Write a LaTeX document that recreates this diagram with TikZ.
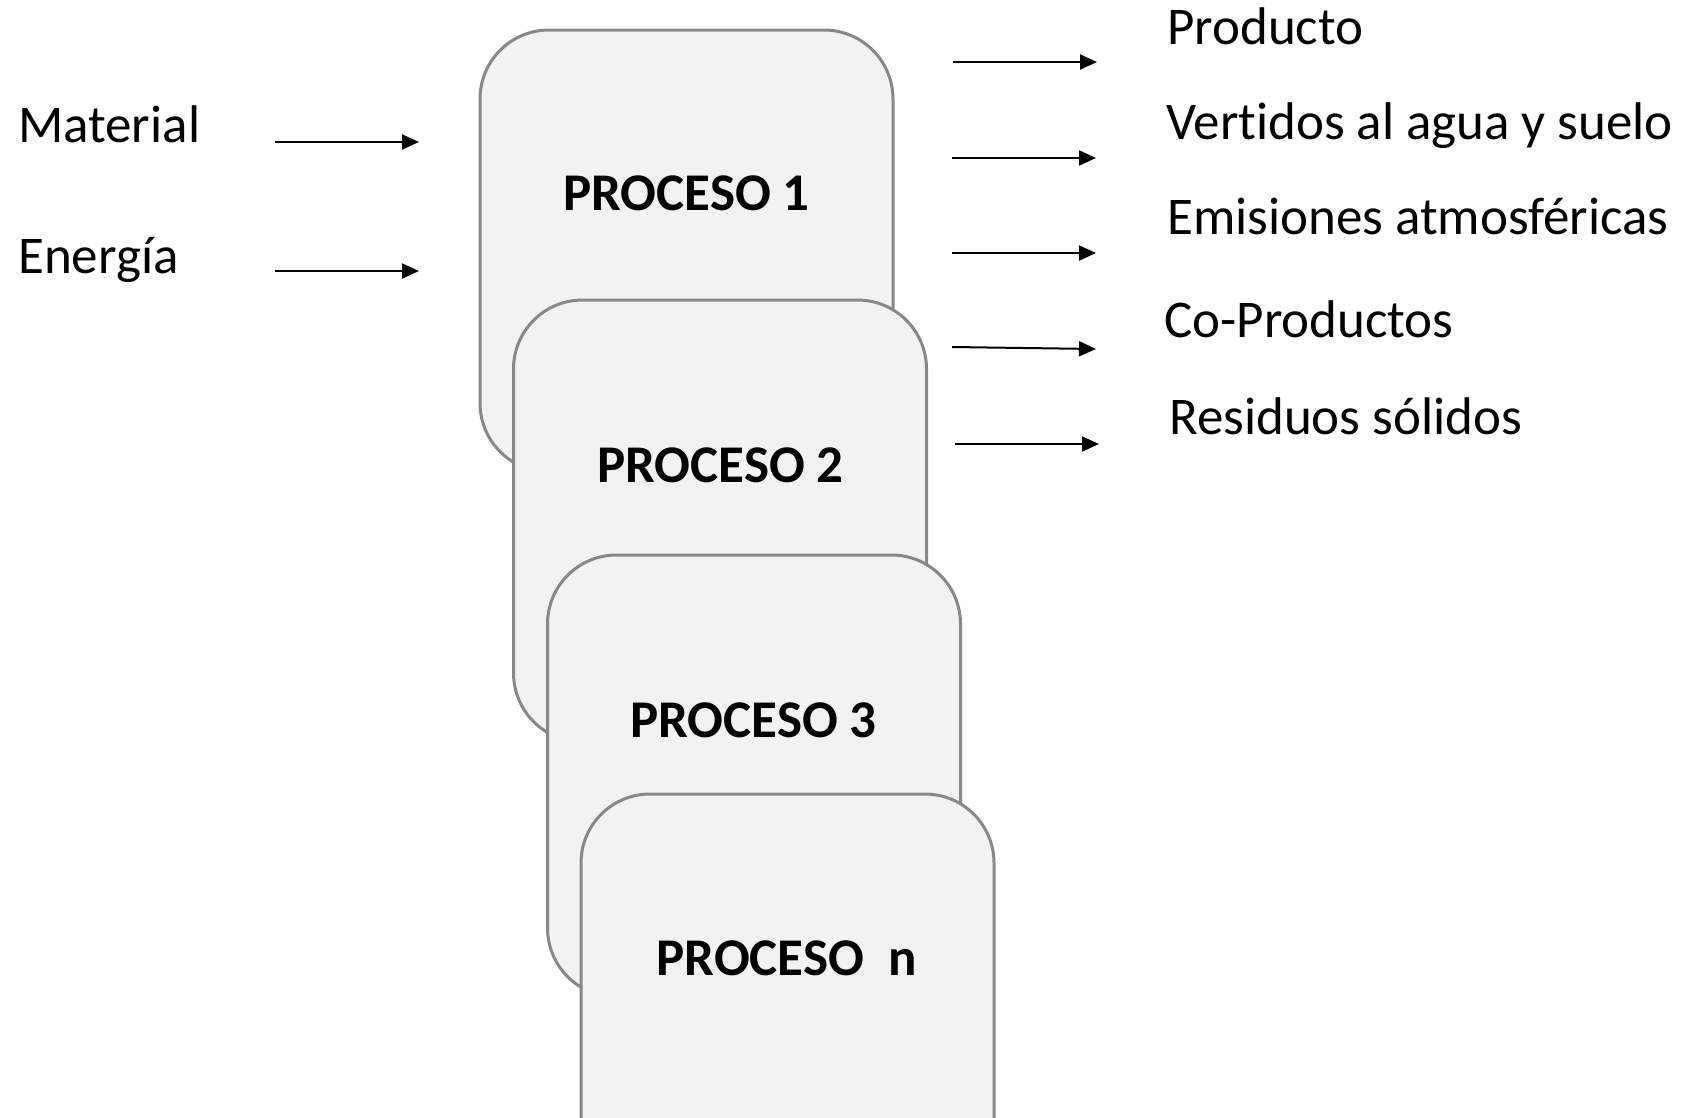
\documentclass[tikz,border=0pt]{standalone}
\usepackage{fontspec}
\setmainfont{Carlito}[Ligatures=NoCommon]
\usetikzlibrary{arrows.meta}
\definecolor{boxfill}{HTML}{F2F2F2}
\definecolor{boxline}{HTML}{878787}
\begin{document}
\begin{tikzpicture}[x=1pt,y=-1pt,
  procbox/.style={draw=boxline, line width=3pt, fill=boxfill, rounded corners=69pt,
    minimum width=413pt, minimum height=442pt, inner sep=0pt, outer sep=0pt},
  proclabel/.style={font=\fontsize{53}{60}\selectfont\bfseries, anchor=base, inner sep=0pt},
  flowlabel/.style={font=\fontsize{53}{60}\selectfont, anchor=base west, inner sep=0pt},
  flow/.style={line width=2pt, -{Triangle[length=17pt,width=15pt]}}]
\useasboundingbox (0,0) rectangle (1683,1117);
\begin{scope}
  \clip (0,0) rectangle (1683,1117);
  % stacked process cards, each in front of the previous one
  \node[procbox] (p1) at (686.5,251) {};
  \node[proclabel] (l1) at (686.5,210) {PROCESO 1};
  \node[procbox] (p2) at (720,521) {};
  \node[proclabel] (l2) at (720.5,482) {PROCESO 2};
  \node[procbox] (p3) at (754,776) {};
  \node[proclabel] (l3) at (753.5,737) {PROCESO 3};
  \node[procbox] (p4) at (787.5,1015) {};
  \node[proclabel] (l4) at (786.5,975) {PROCESO\ \ n};
\end{scope}

% inputs
\node[flowlabel] (mat) at (18,142) {Material};
\node[flowlabel] (ene) at (18,273) {Energía};
\coordinate (mat-s) at (275,142);
\coordinate (mat-e) at (419,142);
\coordinate (ene-s) at (275,271);
\coordinate (ene-e) at (419,271);
\draw[flow] (mat-s) -- (mat-e);
\draw[flow] (ene-s) -- (ene-e);

% outputs
\node[flowlabel] (o1) at (1167,44) {Producto};
\node[flowlabel] (o2) at (1166,139) {Vertidos al agua y suelo};
\node[flowlabel] (o3) at (1167,234) {Emisiones atmosféricas};
\node[flowlabel] (o4) at (1164,337) {Co-Productos};
\node[flowlabel] (o5) at (1169,434) {Residuos sólidos};
\coordinate (a1-s) at (953,62);   \coordinate (a1-e) at (1097,62);
\coordinate (a2-s) at (952,158);  \coordinate (a2-e) at (1096,158);
\coordinate (a3-s) at (952,253);  \coordinate (a3-e) at (1096,253);
\coordinate (a4-s) at (952,347);  \coordinate (a4-e) at (1096,349);
\coordinate (a5-s) at (955,444);  \coordinate (a5-e) at (1099,444);
\draw[flow] (a1-s) -- (a1-e);
\draw[flow] (a2-s) -- (a2-e);
\draw[flow] (a3-s) -- (a3-e);
\draw[flow] (a4-s) -- (a4-e);
\draw[flow] (a5-s) -- (a5-e);
\end{tikzpicture}
\end{document}
